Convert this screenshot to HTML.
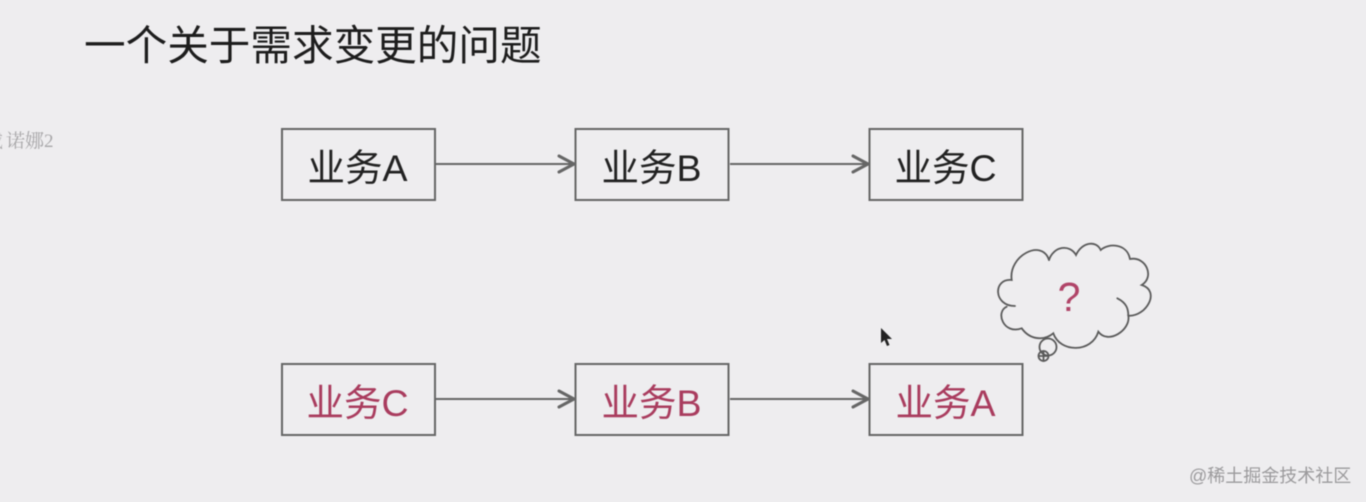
<!DOCTYPE html>
<html lang="zh">
<head>
<meta charset="utf-8">
<style>
html,body{margin:0;padding:0;width:1366px;height:502px;overflow:hidden;background:#eeedef}
svg{display:block;filter:blur(.5px)}
text{font-family:"Liberation Sans","Noto Sans CJK SC",sans-serif}
.box{fill:none;stroke:#666;stroke-width:2}
.line{fill:none;stroke:#666;stroke-width:2}
.head{fill:none;stroke:#666;stroke-width:3;stroke-linecap:round;stroke-linejoin:round}
.cloud{fill:none;stroke:#5a5a5a;stroke-width:1.8;stroke-linecap:round}
.t{font-size:37.5px;text-anchor:middle;fill:#222}
.r{font-size:37.5px;text-anchor:middle;fill:#a93c5e}
.s{font-size:19px;fill:#a8a7a9;font-family:"Liberation Serif","Noto Serif CJK SC",serif}
</style>
</head>
<body>
<svg width="1366" height="502" viewBox="0 0 1366 502" xmlns="http://www.w3.org/2000/svg">
<text x="84" y="60" font-size="41.6" fill="#1d1d1d">一个关于需求变更的问题</text>
<text class="s" x="-16" y="147">戴</text>
<text class="s" x="6" y="147">诺娜2</text>

<rect class="box" x="282" y="129" width="153" height="71"/>
<rect class="box" x="575.500" y="129" width="153" height="71"/>
<rect class="box" x="869.500" y="129" width="153" height="71"/>
<text class="t" x="357.500" y="181">业务A</text>
<text class="t" x="651.500" y="181">业务B</text>
<text class="t" x="945.500" y="181">业务C</text>
<path class="line" d="M436 164H573M730 164H867"/>
<path class="head" d="M559 156L574 164L559 172M853 156L868 164L853 172"/>

<rect class="box" x="282" y="364" width="153" height="71"/>
<rect class="box" x="575.500" y="364" width="153" height="71"/>
<rect class="box" x="869.500" y="364" width="153" height="71"/>
<text class="r" x="357.500" y="416">业务C</text>
<text class="r" x="651.500" y="416">业务B</text>
<text class="r" x="945.500" y="416">业务A</text>
<path class="line" d="M436 399H573M730 399H867"/>
<path class="head" d="M559 391L574 399L559 407M853 391L868 399L853 407"/>

<path class="cloud" d="M1049 260C1042 238 1008 256 1011.700 280C993 278 993 306 1015 306"/>
<path class="cloud" d="M1006.700 306.700C995 312 1003.500 335 1021.700 328.300C1030 340 1044 341 1053.300 333.300C1060 353 1092 353 1098.300 331.700C1108 345 1131 330 1128.300 315.700C1146 317 1161 291 1141.700 285C1155 277 1146 256 1130 259C1127 243 1108 243 1100.700 250C1096 240 1082 242 1076 255C1070 244 1053.700 245.700 1049 260"/>
<path class="cloud" d="M1117.300 298.300C1126.700 303 1128.300 309 1128.300 315.700"/>
<circle class="cloud" cx="1048" cy="347" r="8.500"/>
<circle class="cloud" cx="1043.500" cy="356" r="5"/>
<path class="cloud" d="M1039 356H1048M1043.500 351V361" stroke-width="1"/>
<text x="1069" y="311" font-size="41" text-anchor="middle" fill="#b04468">?</text>

<path d="M881 328L881 343L884.500 340L887 346L889.500 345L887 339L892 339Z" fill="#222"/>

<text x="1189" y="482" font-size="18" fill="#9b9a9c">@稀土掘金技术社区</text>
</svg>
</body>
</html>
